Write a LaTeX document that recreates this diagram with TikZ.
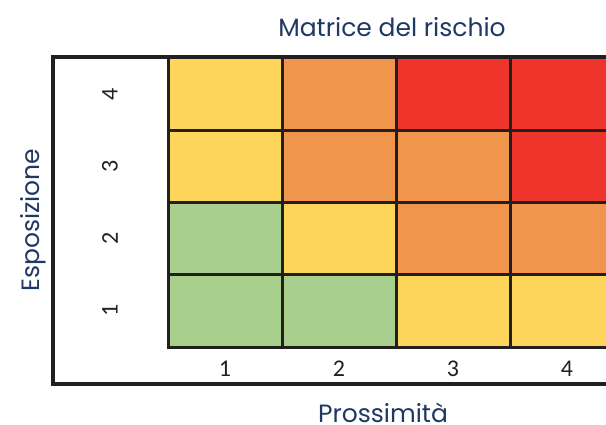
\documentclass[tikz,border=0pt]{standalone}
\usepackage{fontspec}
\setmainfont{Poppins}
\newfontfamily\numfont{Carlito}
\definecolor{cY}{HTML}{FDD55A}
\definecolor{cO}{HTML}{F0964C}
\definecolor{cR}{HTML}{EE342B}
\definecolor{cG}{HTML}{A9CF8C}
\definecolor{cT}{HTML}{1F3864}
\definecolor{cK}{HTML}{231F20}
\begin{document}
\begin{tikzpicture}[x=1pt,y=-1pt,
  cell/.style={draw=cK,line width=3pt,minimum width=114pt,minimum height=72.25pt,inner sep=0pt,outer sep=0pt},
  num/.style={font=\numfont\fontsize{24}{24}\selectfont,text=cK,inner sep=0pt},
  axis/.style={font=\fontsize{25}{25}\selectfont,text=cT,inner sep=0pt}]
\useasboundingbox (0,0) rectangle (606,425);
\clip (0,0) rectangle (606,425);
% cells: rows top (4) to bottom (1)
\foreach \r/\cols [count=\i] in {4/{cY,cO,cR,cR},3/{cY,cO,cO,cR},2/{cG,cY,cO,cO},1/{cG,cG,cY,cY}}{
  \foreach \c [count=\j] in \cols {
    \node[cell,fill=\c] (c\r\j) at ({168+57+114*(\j-1)},{58+36.125+72.25*(\i-1)}) {};
  }
  \node[num,rotate=90] (r\r) at (110,{58+36.125+72.25*(\i-1)}) {\r};
}
\foreach \j in {1,2,3,4}{
  \node[num] (k\j) at ({168+57+114*(\j-1)},369) {\j};
}
% outer frame
\coordinate (ftr) at (620,57);
\coordinate (ftl) at (53,57);
\coordinate (fbl) at (53,384);
\coordinate (fbr) at (620,384);
\draw[cK,line width=3.5pt] (ftr) -- (ftl) -- (fbl) -- (fbr);
% labels
\node[axis] (title) at (392,27) {Matrice del rischio};
\node[axis,anchor=base] (xlab) at (383,422) {Prossimità};
\node[axis,rotate=90] (ylab) at (33,220) {Esposizione};
\end{tikzpicture}
\end{document}
